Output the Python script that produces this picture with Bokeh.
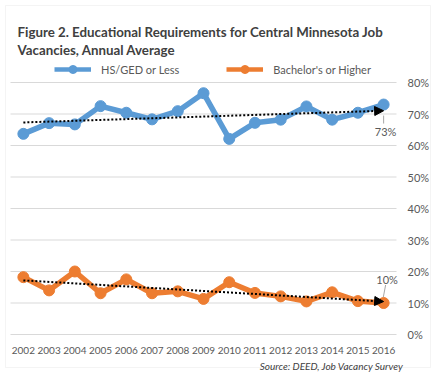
import numpy as np
from bokeh.plotting import figure
from bokeh.core.properties import value
from bokeh.models import (Range1d, Label, Legend, LegendItem, Arrow, NormalHead, PolyAnnotation)
from bokeh.embed import file_html
from bokeh.resources import INLINE

# ---- data ----
years = list(range(2002, 2017))
year_labels = [str(y) for y in years]
hs_ged = [63.7, 67.1, 66.7, 72.5, 70.4, 68.3, 70.9, 76.6, 62.1, 67.2, 68.2, 72.4, 68.2, 70.4, 73.0]
bachelor = [18.2, 14.0, 20.0, 13.1, 17.5, 13.1, 13.7, 11.3, 16.6, 13.2, 12.1, 10.5, 13.4, 10.6, 10.0]
y_ticks = [0.0, 0.1, 0.2, 0.3, 0.4, 0.5, 0.6, 0.7, 0.8]
y_tick_labels = ["0%", "10%", "20%", "30%", "40%", "50%", "60%", "70%", "80%"]
series_names = ["HS/GED or Less", "Bachelor's or Higher"]
end_labels = ["73%", "10%"]
title_lines = ["Figure 2. Educational Requirements for Central Minnesota Job",
               "Vacancies, Annual Average"]
source_text = "Source: DEED, Job Vacancy Survey"

BLUE = "#5B9BD5"
ORANGE = "#ED7D31"
GRAY_TXT = "#595959"
FONT = "Lato"

W, H = 439, 376
# plot-area pixel box (category axis 2001.5..2016.5, value axis 0..0.8)
FL, FR, FT, FB = 10, 396, 82, 334
X0, X1 = 2001.5, 2016.5
Y0, Y1 = 0.0, 0.8


def dx(px):
    return X0 + (px - FL) / (FR - FL) * (X1 - X0)


def dy(py):
    return Y0 + (FB - py) / (FB - FT) * (Y1 - Y0)


def ppx(n):
    return n / (FR - FL) * (X1 - X0)


def ppy(n):
    return n / (FB - FT) * (Y1 - Y0)


p = figure(width=W, height=H, x_range=Range1d(dx(0), dx(W)), y_range=Range1d(dy(H), dy(0)),
           output_backend="svg", toolbar_location=None,
           min_border=0, min_border_left=0, min_border_right=0, min_border_top=0,
           min_border_bottom=0)
p.xaxis.visible = False
p.yaxis.visible = False
p.xgrid.visible = False
p.ygrid.visible = False
p.outline_line_color = None
p.background_fill_color = "white"
p.border_fill_color = "white"

# chart-area border
p.add_layout(PolyAnnotation(xs=[dx(5), dx(430), dx(430), dx(5)],
                            ys=[dy(5), dy(5), dy(367), dy(367)],
                            fill_alpha=0, line_color="#D9D9D9", line_width=1))

# horizontal gridlines
p.segment(x0=[X0] * len(y_ticks), x1=[X1] * len(y_ticks), y0=y_ticks, y1=y_ticks,
          line_color="#D9D9D9", line_width=1)

# value-axis labels (right) and category labels (bottom)
p.text(x=[X1 + ppx(11)] * len(y_ticks), y=y_ticks, text=y_tick_labels,
       text_align="left", text_baseline="middle", text_font=value(FONT),
       text_font_size="11px", text_color=GRAY_TXT)
p.text(x=years, y=[Y0 - ppy(16)] * len(years), text=year_labels,
       text_align="center", text_baseline="middle", text_font=value(FONT),
       text_font_size="10px", text_color=GRAY_TXT)

xs = np.array(years, dtype=float)
hs = np.array(hs_ged) / 100.0
ba = np.array(bachelor) / 100.0

items = []
for vals, col, name in ((hs, BLUE, series_names[0]), (ba, ORANGE, series_names[1])):
    p.line(xs, vals, line_color=col, line_width=5.5, line_join="round")
    p.scatter(xs, vals, size=11, fill_color=col, line_color=col)
    # legend swatches (thinner line, small marker); NaN data so they show only in the legend
    lg_ln = p.line(x=[np.nan, np.nan], y=[np.nan, np.nan], line_color=col, line_width=4.5)
    lg_mk = p.scatter(x=[np.nan], y=[np.nan], size=6, fill_color=col, line_color=col)
    items.append(LegendItem(label=name, renderers=[lg_ln, lg_mk]))

    # linear trendline ending in an arrow
    k, b = np.polyfit(xs, vals, 1)
    p.add_layout(Arrow(x_start=xs[0], y_start=k * xs[0] + b, x_end=xs[-1], y_end=k * xs[-1] + b,
                       line_color="black", line_width=2, line_dash="2 2",
                       end=NormalHead(size=9, fill_color="black", line_color="black",
                                      line_width=1)))

legend = Legend(items=items, orientation="horizontal", location=(54, H - 79),
                padding=0, margin=0, spacing=47, glyph_width=37, glyph_height=20,
                label_height=20, label_standoff=10, border_line_color=None,
                background_fill_alpha=0, label_text_font=FONT,
                label_text_font_size="11px", label_text_color=GRAY_TXT)
p.add_layout(legend)

# end-of-series data labels with leader lines
p.segment(x0=[xs[-1]], y0=[hs[-1] - ppy(11)], x1=[xs[-1]], y1=[hs[-1] - ppy(19)],
          line_color="#A6A6A6", line_width=1)
p.add_layout(Label(x=xs[-1] + ppx(2), y=hs[-1] - ppy(27), text=end_labels[0], text_align="center",
                   text_baseline="middle", text_font=FONT, text_font_size="11px",
                   text_color=GRAY_TXT))
p.segment(x0=[xs[-1] - ppx(0.3)], y0=[ba[-1] + ppy(6)], x1=[xs[-1] + ppx(2)], y1=[ba[-1] + ppy(18)],
          line_color="#A6A6A6", line_width=1)
p.add_layout(Label(x=xs[-1] + ppx(3.5), y=ba[-1] + ppy(23.5), text=end_labels[1], text_align="center",
                   text_baseline="middle", text_font=FONT, text_font_size="11px",
                   text_color=GRAY_TXT))

# title and source
for i, t in enumerate(title_lines):
    p.add_layout(Label(x=dx(17), y=dy(31 + 18 * i), text=t, text_baseline="alphabetic",
                       text_font=FONT, text_font_style="bold", text_font_size="13.3px",
                       text_color="#404040"))
p.add_layout(Label(x=dx(403), y=dy(365), text=source_text,
                   text_align="right", text_baseline="alphabetic", text_font=FONT,
                   text_font_style="italic", text_font_size="10px", text_color="#404040"))

open("out.html", "w").write(file_html(p, INLINE))
